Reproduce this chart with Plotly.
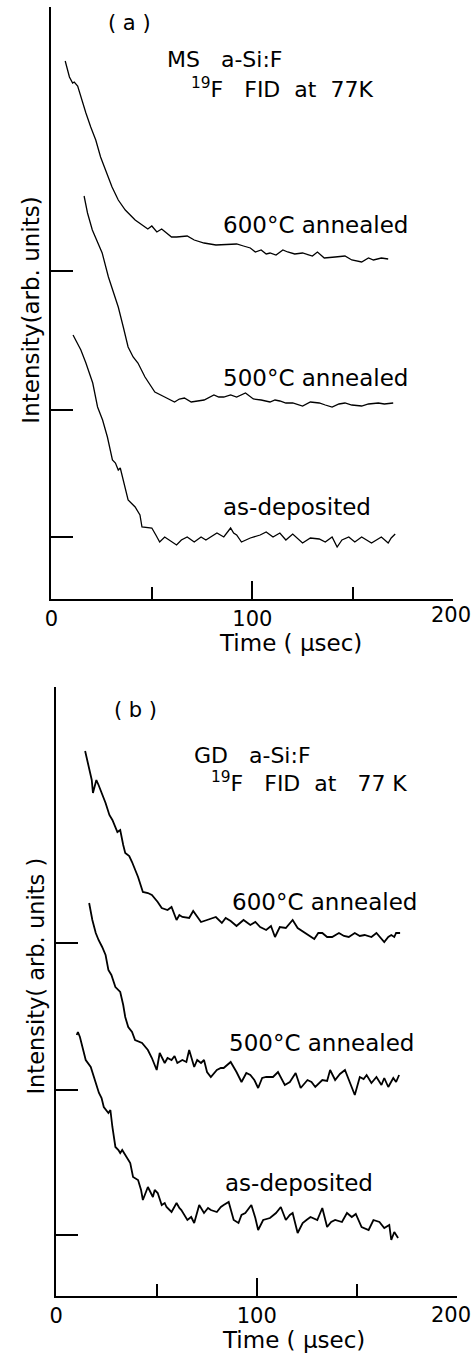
import plotly.graph_objects as go

# ---------------- Panel (a): MS a-Si:F ----------------
a600_t = [6.9, 9.0, 10.6, 11.4, 13.1, 14.7, 17.2, 19.6, 22.1, 24.5, 27.0, 30.2, 33.3, 36.8, 41.7, 45.1,
          48.0, 50.0, 52.5, 54.9, 59.8, 62.3, 67.6, 71.1, 76.0, 81.9, 92.2, 95.6, 99.0, 101.5, 104.4,
          106.9, 108.8, 111.8, 115.2, 117.6, 121.1, 125.0, 129.9, 132.4, 135.8, 141.2, 146.1, 149.5,
          154.4, 157.8, 160.3, 164.2, 167.6]
a600_s = [21.0, 19.4, 18.8, 18.9, 18.5, 17.4, 15.8, 14.4, 13.1, 11.4, 10.1, 8.4, 7.1, 6.1, 5.1, 4.6,
          4.2, 4.5, 3.9, 4.2, 3.4, 3.4, 3.5, 3.1, 2.8, 2.6, 2.7, 2.5, 2.3, 1.9, 2.1,
          1.7, 1.8, 1.6, 2.1, 1.9, 1.7, 1.8, 1.5, 1.9, 1.3, 1.4, 1.5, 1.1,
          0.9, 1.3, 1.1, 1.3, 1.2]

a500_t = [16.3, 18.0, 20.4, 23.0, 25.3, 28.4, 30.9, 33.3, 35.8, 38.2, 40.7, 43.1, 46.6, 51.5, 56.4,
          61.3, 63.7, 66.2, 69.6, 72.5, 76.0, 80.9, 83.3, 85.8, 89.2, 92.2, 96.6, 100.5, 104.4, 108.8,
          111.3, 113.7, 116.7, 120.1, 125.0, 128.9, 133.3, 136.3, 139.7, 143.1, 146.1, 149.5, 154.4,
          157.8, 162.7, 165.7, 170.1]
a500_s = [21.4, 19.7, 18.0, 16.7, 15.7, 13.3, 11.8, 10.3, 8.3, 6.3, 5.3, 4.7, 3.3, 1.8, 1.3,
          0.8, 1.1, 1.2, 0.8, 0.9, 1.0, 1.5, 1.3, 1.3, 1.5, 1.3, 1.7, 1.1, 1.0, 0.8,
          1.0, 0.9, 0.7, 0.7, 0.4, 0.8, 0.7, 0.5, 0.3, 0.6, 0.7, 0.5, 0.4,
          0.6, 0.7, 0.6, 0.7]

aasd_t = [10.8, 13.1, 14.7, 17.2, 20.6, 23.0, 25.5, 27.9, 30.4, 31.9, 33.3, 34.3, 35.3, 38.2, 41.7,
          44.1, 45.1, 50.0, 52.0, 53.9, 56.4, 59.8, 62.3, 64.7, 67.6, 71.1, 74.5, 76.9, 79.4, 82.4,
          85.8, 88.2, 89.2, 90.7, 92.2, 94.6, 99.0, 103.9, 106.9, 110.3, 113.7, 116.7, 120.1, 125.0,
          128.9, 133.3, 136.3, 139.7, 142.2, 144.6, 148.0, 151.0, 154.4, 159.3, 164.2, 167.6, 169.1,
          171.1]
aasd_s = [20.2, 19.4, 18.7, 17.4, 15.4, 13.0, 11.7, 10.0, 7.7, 7.4, 6.7, 6.9, 6.0, 3.7, 3.0,
          2.2, 1.0, 0.9, 0.2, -0.5, 0.0, -0.5, -0.8, -0.3, 0.0, -0.5, 0.0, -0.3, 0.0, 0.4,
          0.0, 0.7, 0.9, 0.4, 0.2, -0.5, -0.1, 0.2, 0.5, 0.0, 0.4, -0.3, 0.3, -0.6,
          -0.1, -0.2, -0.5, 0.0, -1.0, -0.3, 0.0, -0.5, 0.0, -0.6, 0.0, -0.6, -0.1,
          0.3]

a_offsets = [32.8, 18.9, 6.2]   # baseline of 600°C, 500°C, as-deposited

# ---------------- Panel (b): GD a-Si:F ----------------
b600_t = [14.4, 16.4, 17.7, 18.3, 20.0, 21.1, 22.1, 24.6, 26.5, 28.0, 30.5, 31.9, 33.4, 34.4, 36.4,
          37.8, 40.8, 43.2, 45.7, 47.7, 50.6, 52.6, 55.5, 57.5, 60.0, 61.4, 62.9, 66.3, 68.3, 69.8,
          72.2, 75.2, 79.6, 82.6, 84.5, 87.0, 89.9, 93.4, 96.8, 99.3, 101.7, 104.7, 107.1, 109.1,
          111.5, 114.5, 117.9, 120.4, 124.3, 128.7, 130.7, 132.7, 135.1, 137.6, 141.0, 143.5, 145.9,
          148.9, 151.4, 153.8, 157.2, 159.7, 163.6, 165.6, 167.1, 168.6, 169.5, 171.5]
b600_s = [19.2, 17.6, 16.3, 15.0, 16.3, 15.8, 15.3, 14.0, 12.8, 12.3, 11.1, 11.3, 9.8, 9.0, 8.7,
          8.1, 6.6, 5.1, 5.0, 4.8, 4.1, 3.5, 3.3, 3.6, 2.3, 2.8, 2.6, 2.5, 3.2, 2.8,
          2.1, 2.3, 2.6, 2.0, 2.5, 2.2, 1.7, 2.3, 1.8, 2.1, 1.6, 1.3, 1.7, 0.6,
          1.6, 1.5, 2.3, 1.5, 1.0, 0.4, 1.0, 1.0, 0.6, 0.6, 1.0, 0.7, 0.6,
          1.0, 0.7, 0.8, 0.6, 1.0, 0.1, 0.6, 0.8, 0.6, 1.0, 1.0]

b500_t = [16.4, 18.0, 19.7, 21.1, 22.9, 24.6, 26.0, 27.5, 29.5, 31.9, 33.4, 34.4, 35.9, 37.8, 39.3,
          42.8, 45.7, 47.7, 50.1, 51.6, 54.1, 55.5, 57.5, 59.0, 60.4, 62.9, 64.9, 66.3, 68.8, 70.3,
          72.2, 73.7, 75.2, 77.1, 80.1, 82.1, 83.5, 87.0, 89.9, 92.4, 94.8, 96.8, 98.8, 100.7, 102.7,
          104.7, 108.1, 110.6, 114.0, 116.5, 119.4, 121.9, 125.3, 127.3, 129.2, 132.7, 135.1, 136.6,
          139.1, 141.5, 144.0, 145.9, 147.4, 148.9, 151.4, 153.3, 154.8, 157.2, 159.7, 162.2, 163.6,
          165.6, 168.1, 169.5, 171.0]
b500_s = [18.7, 17.0, 15.7, 15.0, 14.3, 13.5, 12.0, 11.5, 10.3, 9.8, 8.5, 7.3, 6.3, 5.8, 5.0,
          4.7, 4.0, 3.2, 2.0, 3.7, 2.7, 3.2, 3.0, 3.4, 2.7, 3.0, 2.8, 4.0, 2.3, 3.0,
          2.7, 3.0, 1.8, 1.3, 2.0, 2.2, 2.2, 2.8, 1.8, 0.8, 1.7, 1.5, 1.0, 0.2, 1.2,
          1.3, 1.3, 1.8, 0.5, 0.8, 1.7, 0.2, 1.0, 0.8, 0.3, 1.0, 0.9, 2.0,
          1.0, 1.6, 2.0, 1.0, 0.2, -0.5, 1.3, 1.1, 1.5, 0.7, 1.3, 0.5, 1.2,
          0.3, 1.2, 0.8, 1.5]

basd_t = [10.2, 10.8, 11.8, 13.1, 14.7, 17.2, 18.8, 19.7, 21.3, 22.6, 23.7, 26.0, 27.0, 28.0, 29.5,
          31.0, 31.9, 32.9, 34.4, 36.9, 38.3, 40.8, 42.3, 43.2, 45.7, 48.2, 49.1, 50.6, 52.6, 54.1,
          55.0, 57.5, 60.0, 61.4, 62.4, 65.4, 67.3, 68.8, 71.3, 73.7, 75.7, 77.1, 80.1, 82.1, 83.5,
          86.0, 88.5, 90.9, 92.4, 94.3, 97.3, 99.3, 100.7, 103.2, 106.6, 109.6, 112.0, 114.5, 116.5,
          117.9, 120.4, 122.9, 124.8, 126.8, 130.2, 132.7, 135.1, 137.1, 139.1, 142.5, 145.0, 147.4,
          149.4, 150.9, 152.3, 155.8, 158.2, 161.2, 163.6, 166.1, 167.1, 168.6, 170.5]
basd_s = [20.0, 20.3, 19.8, 18.8, 17.5, 16.8, 15.8, 15.2, 14.2, 13.7, 12.8, 12.2, 12.5, 10.8, 8.8,
          8.5, 8.2, 8.5, 8.0, 7.2, 5.8, 5.5, 4.5, 3.5, 4.8, 3.8, 4.5, 4.2, 3.0, 3.2,
          2.8, 2.3, 3.2, 2.7, 2.5, 1.5, 1.8, 1.2, 3.0, 2.2, 2.7, 2.5, 2.3, 2.8, 3.0,
          3.3, 1.5, 1.2, 2.0, 2.2, 3.0, 1.7, 0.5, 1.5, 1.7, 2.2, 2.8, 1.5, 2.0,
          2.2, 0.2, 1.2, 1.5, 1.8, 1.5, 2.7, 0.8, 1.3, 1.5, 1.3, 2.2, 1.8,
          2.1, 1.5, 0.8, 0.5, 1.5, 1.3, 0.7, 1.0, -0.5, 0.3, -0.3]

b_offsets = [35.3, 20.6, 6.1]

curve_labels = ["600°C annealed", "500°C annealed", "as-deposited"]
x_ticks = [0, 100, 200]
x_ticktext = ["0", "100", ""]      # "200" drawn as a right-aligned label at the page edge
x_last_label = "200"
x_minor = [50, 150]

FONT = "DejaVu Sans"
fig = go.Figure()

def add_curves(ts, ss, offs, xa, ya, width):
    for t, s, o in zip(ts, ss, offs):
        fig.add_trace(go.Scatter(x=t, y=[o + v for v in s], mode="lines",
                                 line=dict(color="black", width=width),
                                 xaxis=xa, yaxis=ya, showlegend=False, hoverinfo="skip"))

add_curves([a600_t, a500_t, aasd_t], [a600_s, a500_s, aasd_s], a_offsets, "x", "y", 1.3)
add_curves([b600_t, b500_t, basd_t], [b600_s, b500_s, basd_s], b_offsets, "x2", "y2", 1.8)

xcommon = dict(range=[0, 200], showgrid=False, zeroline=False, showline=True, linecolor="black",
               linewidth=2, ticks="inside", tickmode="array", tickvals=x_ticks,
               ticktext=x_ticktext, ticklen=18, tickwidth=2, tickcolor="black",
               minor=dict(tickmode="array", tickvals=x_minor, ticks="inside", ticklen=12,
                          tickwidth=2, tickcolor="black"),
               tickfont=dict(family=FONT, size=21, color="black"), fixedrange=True)
ycommon = dict(showgrid=False, zeroline=False, showline=True, linecolor="black", linewidth=2,
               ticks="inside", ticklen=22, tickwidth=1.5, tickcolor="black",
               showticklabels=False, tickmode="array", fixedrange=True)

fig.update_layout(
    width=473, height=1353, margin=dict(l=0, r=0, t=0, b=0),
    paper_bgcolor="white", plot_bgcolor="white",
    xaxis=dict(domain=[45/473, 453/473], anchor="y", **xcommon),
    yaxis=dict(domain=[(1353-599)/1353, (1353-7)/1353], anchor="x", range=[0, 59.2],
               tickvals=a_offsets, **ycommon),
    xaxis2=dict(domain=[50/473, 457/473], anchor="y2", **xcommon),
    yaxis2=dict(domain=[(1353-1296)/1353, (1353-687)/1353], anchor="x2", range=[0, 60.9],
                tickvals=b_offsets, **ycommon),
)

ann = []
def txt(text, x, y, xref, yref, size=23, xanchor="left", angle=0):
    ann.append(dict(text=text, x=x, y=y, xref=xref, yref=yref, showarrow=False,
                    xanchor=xanchor, yanchor="middle", textangle=angle,
                    font=dict(family=FONT, size=size, color="black")))

# panel (a)
txt("( a )", 27, 57.6, "x", "y", size=21)
txt("MS   a-Si:F", 56.4, 53.9, "x", "y", size=22)
txt("<sup>19</sup>F   FID  at  77K", 68.6, 51.1, "x", "y", size=22)
txt(curve_labels[0], 84.3, 37.4, "x", "y")
txt(curve_labels[1], 84.3, 22.1, "x", "y")
txt(curve_labels[2], 84.3, 9.2, "x", "y")
txt(x_last_label, 1.0, (1353-615)/1353, "paper", "paper", size=21, xanchor="right")
txt("Time ( μsec)", 288/473, (1353-643)/1353, "paper", "paper", size=23, xanchor="center")
txt("Intensity(arb. units)", 24/473, (1353-310)/1353, "paper", "paper", size=23,
    xanchor="center", angle=-90)

# panel (b)
txt("( b )", 28, 58.6, "x2", "y2", size=21)
txt("GD   a-Si:F", 67.8, 54.1, "x2", "y2", size=22)
txt("<sup>19</sup>F   FID  at   77 K", 76.2, 51.4, "x2", "y2", size=22)
txt(curve_labels[0], 86.5, 39.4, "x2", "y2")
txt(curve_labels[1], 85.0, 25.3, "x2", "y2")
txt(curve_labels[2], 83.0, 11.3, "x2", "y2")
txt(x_last_label, 1.0, (1353-1315)/1353, "paper", "paper", size=21, xanchor="right")
txt("Time ( μsec)", 291/473, (1353-1340)/1353, "paper", "paper", size=23, xanchor="center")
txt("Intensity( arb. units )", 29/473, (1353-976)/1353, "paper", "paper", size=22.5,
    xanchor="center", angle=-90)

fig.update_layout(annotations=ann)
fig.write_html("out.html")
